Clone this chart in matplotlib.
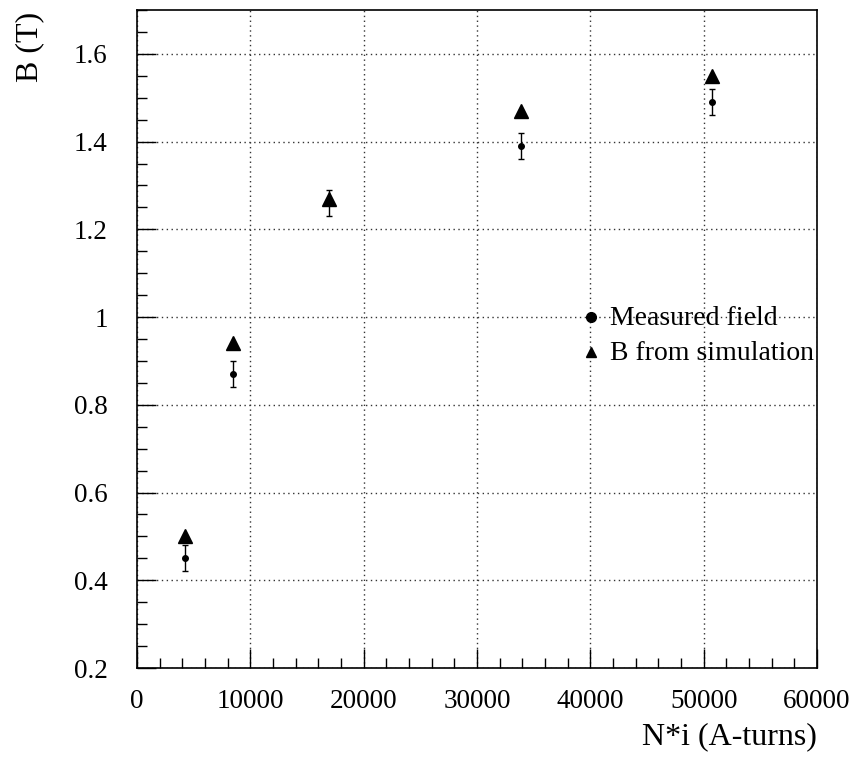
import matplotlib
matplotlib.use("Agg")
import matplotlib.pyplot as plt
from matplotlib.ticker import MultipleLocator

# Ampere-turns and fields
ampere_turns = [4230, 8460, 16920, 33840, 50760]
b_measured = [0.45, 0.87, 1.26, 1.39, 1.49]
b_error = [0.03, 0.03, 0.03, 0.03, 0.03]
b_simulated = [0.50, 0.94, 1.27, 1.47, 1.55]

legend_labels = ["Measured field", "B from simulation"]
x_label = "N*i (A-turns)"
y_label = "B (T)"

plt.rcParams["font.family"] = ["Liberation Serif", "DejaVu Serif"]

fig = plt.figure(figsize=(8.58, 7.63), dpi=100)
ax = fig.add_axes([0.1597, 0.1245, 0.7925, 0.8624])

ax.set_xlim(0, 60000)
ax.set_ylim(0.2, 1.7)

ax.xaxis.set_major_locator(MultipleLocator(10000))
ax.xaxis.set_minor_locator(MultipleLocator(2000))
ax.yaxis.set_major_locator(MultipleLocator(0.2))
ax.yaxis.set_minor_locator(MultipleLocator(0.05))

ax.grid(True, which="major", linestyle=(0, (1, 2.5)), color="#333333", linewidth=1.0)
ax.set_axisbelow(True)

ax.tick_params(which="both", direction="in", top=False, right=False,
               labelsize=19.5, width=1.0, color="black")
ax.tick_params(which="major", length=14)
ax.tick_params(which="minor", length=7)
ax.tick_params(axis="x", pad=15)
ax.tick_params(axis="y", pad=21)

ax.xaxis.set_major_formatter(plt.FuncFormatter(lambda v, p: f"{int(v)}"))
ax.yaxis.set_major_formatter(plt.FuncFormatter(lambda v, p: f"{v:g}"))

for sp in ax.spines.values():
    sp.set_linewidth(1.2)

ax.errorbar(ampere_turns, b_measured, yerr=b_error, fmt="o", color="black",
            markersize=4, elinewidth=1.0, capsize=2.5, capthick=1.0, zorder=3)
ax.plot(ampere_turns, b_simulated, linestyle="none", marker="^",
        color="black", markersize=10.5, zorder=4)

# In-plot legend
ax.plot([590.7 / 858], [1 - 316.7 / 763], transform=fig.transFigure,
        marker="o", color="black", markersize=7, clip_on=False)
ax.plot([590.7 / 858], [1 - 352 / 763], transform=fig.transFigure,
        marker="^", color="black", markersize=7, clip_on=False)
fig.text(610 / 858, 1 - 318 / 763, legend_labels[0], fontsize=20,
         va="center", ha="left")
fig.text(610 / 858, 1 - 353 / 763, legend_labels[1], fontsize=20,
         va="center", ha="left")

fig.text(817 / 858, 1 - 737 / 763, x_label, fontsize=23, ha="right", va="center")
fig.text(30 / 858, 1 - 12 / 763, y_label, fontsize=23, ha="center", va="top",
         rotation=90)

fig.savefig("out.png", dpi=100)
